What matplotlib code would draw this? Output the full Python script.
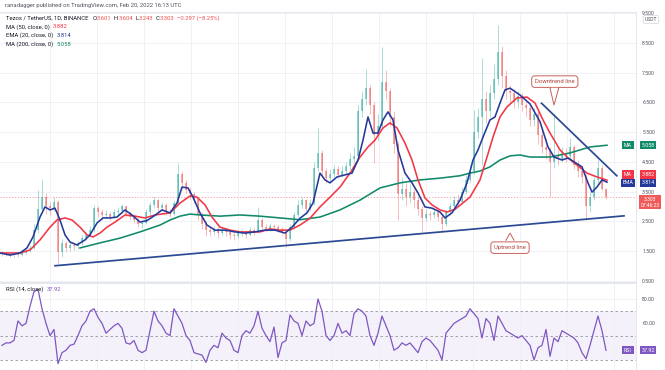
import numpy as np
import matplotlib
matplotlib.use("Agg")
import matplotlib.pyplot as plt
from matplotlib.patches import Polygon

plt.rcParams['font.family'] = ['Roboto', 'DejaVu Sans']

W, H = 665, 370

# ---- price data (one candle ~ 2.5 days) ----
close = [1.40, 1.38, 1.35, 1.38, 1.36, 1.42, 1.48, 1.60, 2.20, 2.90,
         3.30, 3.00, 2.95, 3.15, 1.45, 1.75, 1.60, 1.70, 1.65, 1.75,
         1.95, 2.05, 2.20, 2.95, 2.80, 2.70, 2.75, 2.65, 2.80, 2.85,
         3.00, 2.75, 2.65, 2.55, 2.40, 2.45, 2.80, 3.05, 3.20, 2.95,
         3.05, 2.80, 2.75, 3.10, 4.10, 3.80, 3.55, 3.40, 3.25, 2.70,
         2.40, 2.20, 2.15, 2.25, 2.10, 2.20, 2.15, 2.05, 2.00, 2.10,
         2.15, 2.05, 2.20, 2.15, 2.55, 2.30, 2.25, 2.35, 2.30, 2.25,
         2.15, 1.90, 2.30, 2.70, 3.05, 3.20, 2.90, 3.10, 4.30, 4.80,
         4.20, 3.95, 4.10, 4.25, 4.05, 4.20, 4.35, 4.60, 4.70, 6.20,
         6.60, 7.00, 6.40, 5.40, 5.70, 7.20, 6.90, 6.00, 5.10, 3.40,
         3.60, 3.30, 3.50, 3.20, 2.90, 2.60, 2.75, 2.70, 2.80, 2.65,
         2.40, 2.80, 3.00, 3.20, 3.15, 3.50, 3.90, 4.20, 5.50, 6.00,
         6.60, 6.20, 6.80, 7.30, 8.20, 7.40, 6.90, 6.80, 6.50, 6.70,
         6.40, 6.30, 5.90, 6.10, 5.40, 5.00, 4.90, 4.50, 4.70, 4.60,
         4.80, 4.70, 5.00, 4.40, 4.20, 4.00, 3.00, 3.30, 3.90, 4.30,
         3.601, 3.303]
high = [1.48, 1.45, 1.42, 1.44, 1.42, 1.48, 1.55, 1.70, 2.40, 3.55,
        3.92, 3.45, 3.15, 3.30, 3.20, 1.90, 1.85, 1.80, 1.78, 1.85,
        2.05, 2.15, 2.35, 3.05, 3.00, 2.90, 2.88, 2.82, 2.92, 2.98,
        3.08, 3.02, 2.85, 2.75, 2.62, 2.55, 2.90, 3.15, 3.30, 3.25,
        3.15, 3.10, 2.90, 3.20, 4.46, 4.20, 3.90, 3.65, 3.50, 3.30,
        2.80, 2.50, 2.30, 2.35, 2.30, 2.30, 2.28, 2.22, 2.12, 2.20,
        2.25, 2.20, 2.30, 2.28, 2.98, 2.60, 2.40, 2.45, 2.42, 2.38,
        2.30, 2.20, 2.40, 2.80, 3.20, 3.30, 3.25, 3.25, 4.50, 5.64,
        4.90, 4.30, 4.25, 4.40, 4.35, 4.35, 4.50, 4.80, 5.00, 6.40,
        6.90, 7.62, 7.10, 6.50, 6.10, 8.37, 7.60, 7.00, 6.20, 5.20,
        4.00, 3.80, 3.75, 3.60, 3.30, 3.00, 2.90, 2.85, 2.95, 2.88,
        2.70, 2.90, 3.10, 3.35, 3.40, 3.65, 4.05, 4.40, 6.24, 6.30,
        8.00, 6.90, 7.10, 7.80, 9.10, 8.40, 7.60, 7.10, 6.95, 6.90,
        6.80, 6.55, 6.40, 6.30, 6.20, 5.60, 5.30, 5.00, 6.10, 4.90,
        5.00, 4.95, 5.30, 5.05, 4.55, 4.30, 4.10, 3.50, 4.00, 4.55,
        4.40, 3.604]
low = [1.33, 1.32, 1.30, 1.31, 1.31, 1.33, 1.39, 1.45, 1.55, 2.10,
       2.80, 2.75, 2.70, 2.85, 1.05, 1.30, 1.45, 1.50, 1.52, 1.58,
       1.70, 1.88, 2.00, 2.15, 2.65, 2.55, 2.60, 2.55, 2.60, 2.70,
       2.78, 2.65, 2.55, 2.45, 2.32, 2.27, 2.40, 2.72, 2.95, 2.85,
       2.85, 2.70, 2.65, 2.70, 3.05, 3.60, 3.40, 3.25, 3.10, 2.55,
       2.25, 2.00, 2.00, 2.05, 1.95, 2.02, 2.00, 1.90, 1.87, 1.92,
       2.00, 1.95, 2.00, 2.05, 2.10, 2.20, 2.15, 2.18, 2.20, 2.12,
       2.05, 1.63, 1.85, 2.25, 2.65, 2.95, 2.75, 2.85, 3.05, 4.20,
       4.00, 3.80, 3.85, 4.00, 3.95, 4.00, 4.10, 4.25, 4.45, 4.60,
       6.00, 6.40, 6.10, 4.46, 5.20, 5.60, 6.60, 5.70, 4.80, 2.54,
       3.20, 3.00, 3.15, 2.95, 2.70, 2.14, 2.50, 2.55, 2.60, 2.50,
       2.14, 2.35, 2.70, 2.90, 3.00, 3.10, 3.40, 3.80, 4.10, 5.30,
       4.40, 5.80, 6.00, 6.60, 7.10, 7.00, 6.60, 6.50, 6.30, 6.30,
       6.20, 6.00, 5.70, 5.70, 5.10, 4.80, 4.60, 3.30, 4.30, 4.40,
       4.50, 4.50, 4.60, 4.25, 4.00, 3.80, 2.54, 2.80, 3.20, 3.80,
       3.55, 3.243]
first_open = 1.42

# moving averages, sampled along the chart (x in candle units)
ema20_x = [-0.5, 2, 4.5, 6.25, 7.75, 9.5, 10.75, 12, 13.25, 14.5, 15.75, 17, 18.75,
           20.75, 22, 23.75, 25.25, 27, 28.75, 30.75, 32.5, 34.5, 36.25, 38.25, 40,
           42, 43.75, 45, 46.5, 47.75, 49.5, 51.25, 53.25, 55.75, 58.25, 60.75, 63.25,
           65.75, 68.25, 70.75, 72.5, 74.5, 76.25, 77.75, 79.5, 80.75, 82, 83.75, 85.75,
           87.5, 89, 90.25, 91.5, 92.75, 94, 95.25, 96.5, 97.75, 99, 100.75, 102.5, 104,
           105.75, 107.5, 109.5, 110.75, 112.5, 114.5, 116.25, 117.75, 119, 120.25, 122,
           123.25, 124.5, 125.75, 127, 129.5, 132, 134.5, 136.5, 138, 140, 141.5, 143,
           145, 146.5, 147.5, 148.75, 150, 151.25]
ema20_y = [1.43, 1.36, 1.43, 1.60, 1.97, 2.64, 2.98, 2.88, 2.94, 2.54, 2.04, 1.80, 1.70,
           1.87, 2.04, 2.44, 2.61, 2.61, 2.64, 2.88, 2.71, 2.47, 2.52, 2.70, 2.88,
           2.78, 3.11, 3.65, 3.62, 3.31, 2.78, 2.37, 2.20, 2.20, 2.14, 2.10, 2.14,
           2.20, 2.20, 2.10, 2.30, 2.60, 2.78, 3.11, 4.12, 3.89, 3.79, 3.99, 4.06,
           4.12, 4.56, 5.23, 6.01, 5.47, 5.47, 5.91, 6.18, 5.91, 4.90, 4.12, 3.79, 3.45,
           2.98, 2.94, 2.81, 2.61, 2.78, 3.21, 3.79, 4.56, 4.90, 5.33, 5.91,
           6.01, 6.48, 6.92, 6.98, 6.75, 6.45, 5.85, 5.00, 4.66, 4.56, 4.63, 4.50,
           4.33, 3.79, 3.48, 3.65, 3.89, 3.814]

ma50_x = [-0.5, 4.5, 7, 9.5, 12, 13.75, 15.75, 17.5, 19.5, 21.25, 22.75, 24.5, 26.25,
          28.25, 30.75, 33.25, 35.75, 38.25, 42, 44.5, 47, 48.75, 50.75, 52.5, 54.5,
          57, 59.5, 62, 64.5, 67, 69.5, 72, 74.5, 77, 79.5, 82, 84.5, 87, 89.5, 91.5,
          93.25, 95.25, 97, 98.75, 100.75, 102.5, 104, 105.75, 107.5, 109.5, 111.25,
          113.25, 117, 119.5, 121.25, 122.75, 124.5, 126.25, 128.75, 131.25, 133.25,
          135.25, 137, 139.5, 141.5, 143.75, 146.25, 148.75, 151.25]
ma50_y = [1.43, 1.43, 1.53, 1.87, 2.30, 2.54, 2.61, 2.54, 2.30, 2.04, 1.97, 2.10, 2.30,
          2.47, 2.71, 2.67, 2.61, 2.71, 2.78, 3.11, 3.35, 3.31, 3.05, 2.64, 2.30,
          2.20, 2.14, 2.14, 2.14, 2.24, 2.20, 2.20, 2.37, 2.60, 2.98, 3.31, 3.65, 4.12,
          4.66, 5.00, 5.23, 5.64, 5.81, 5.64, 5.13, 4.56, 3.89, 3.28, 3.05, 2.88, 2.81,
          2.90, 3.31, 3.89, 4.66, 5.33, 6.01, 6.35, 6.65, 6.68, 6.48,
          5.91, 5.47, 4.90, 4.63, 4.39, 4.12, 3.99, 3.882]

ma200_x = [19.5, 24.5, 29.5, 34.5, 39.5, 42, 44.5, 47, 49.5, 54.5, 59.5, 64.5, 69.5,
           74.5, 79.5, 84.5, 89.5, 94.5, 99.5, 104.5, 109.5, 114.5, 117, 119.5, 122,
           124.5, 127, 129.5, 132, 134.5, 137, 139.5, 142, 144.5, 147, 151.25]
ma200_y = [1.60, 1.77, 1.93, 2.14, 2.37, 2.54, 2.67, 2.74, 2.71, 2.67, 2.71, 2.67, 2.61,
           2.55, 2.64, 2.88, 3.21, 3.62, 3.79, 3.89, 3.95, 4.03, 4.12, 4.19, 4.33,
           4.56, 4.70, 4.73, 4.66, 4.66, 4.66, 4.73, 4.80, 4.90, 5.00, 5.058]

# drawn trendlines (x in candle units, price)
uptrend_x = [13.25, 155.5]
uptrend_y = [1.00, 2.68]
downtrend_x = [134.9, 153.7]
downtrend_y = [6.47, 4.03]

rsi = [42, 44, 44, 46, 62, 58, 60, 74, 86, 88,
       72, 60, 50, 55, 27, 36, 38, 42, 43, 50,
       58, 62, 70, 72, 65, 60, 52, 55, 58, 60,
       56, 44, 43, 46, 38, 36, 38, 54, 70, 62,
       58, 52, 50, 72, 66, 60, 50, 46, 36, 35,
       34, 28, 38, 42, 40, 52, 48, 46, 38, 36,
       50, 54, 52, 58, 70, 56, 50, 45, 57, 32,
       44, 46, 67, 62, 60, 50, 62, 58, 60, 80,
       70, 50, 46, 50, 60, 52, 54, 50, 68, 72,
       70, 66, 50, 42, 52, 66, 58, 50, 38, 40,
       44, 42, 44, 40, 36, 45, 48, 46, 42, 38,
       30, 52, 56, 60, 62, 64, 66, 72, 68, 64,
       48, 64, 60, 46, 66, 60, 54, 52, 50, 48,
       50, 46, 42, 30, 40, 42, 55, 33, 48, 45,
       54, 52, 50, 48, 44, 36, 31, 42, 54, 66,
       54, 37.92]

price_ticks = [0.5, 1.5, 2.5, 3.5, 4.5, 5.5, 6.5, 7.5, 8.5, 9.5]
rsi_ticks = [60, 80]

UP, DOWN = '#26a69a', '#ef5350'
RED, BLUE, GREEN, PURPLE = '#f23645', '#24399a', '#118a6a', '#7e57c2'
NAVY = '#2c4a94'
GRID = '#eef0f5'
TXT = '#50535e'

fig = plt.figure(figsize=(W / 100, H / 100), dpi=100)
ax = fig.add_axes([0, 1 - 282 / H, 636 / W, 270 / H])
rax = fig.add_axes([0, 0, 636 / W, 87 / H])

x = np.arange(len(close))
c = np.array(close)
o = np.array([first_open] + close[:-1])
hi = np.array(high)
lo = np.array(low)
cols = [UP if cc >= oo else DOWN for oo, cc in zip(o, c)]

ax.vlines(x, lo, hi, colors=cols, lw=0.6, alpha=0.45, zorder=2)
body = np.maximum(np.abs(c - o), 0.02)
ax.bar(x, body, bottom=np.minimum(o, c), width=0.62, color=cols, alpha=0.5,
       linewidth=0, zorder=2)

ax.axhline(close[-1], color=DOWN, lw=0.6, ls=(0, (1.5, 2)), alpha=0.6, zorder=1)

ax.plot(ma200_x, ma200_y, color=GREEN, lw=1.15, zorder=3)
ax.plot(ma50_x, ma50_y, color=RED, lw=1.15, zorder=4)
ax.plot(ema20_x, ema20_y, color=BLUE, lw=1.15, zorder=5)
ax.plot(uptrend_x, uptrend_y, color=NAVY, lw=1.25, zorder=6)
ax.plot(downtrend_x, downtrend_y, color=NAVY, lw=1.25, zorder=6)

ax.set_xlim(-0.5, 158.5)
ax.set_ylim(0.453, 9.544)

grid_x = np.arange(12, 157, 11.75)
for a in (ax, rax):
    a.set_xticks(grid_x)
    a.tick_params(axis='x', length=0, labelbottom=False)
    a.grid(True, color=GRID, lw=0.6, zorder=0)
    a.yaxis.tick_right()
    a.tick_params(axis='y', length=0, pad=4.5, labelsize=3.7, labelcolor=TXT)
    a.spines['left'].set_visible(False)
    for s in ('right', 'top', 'bottom'):
        a.spines[s].set_color('#e0e3eb')
        a.spines[s].set_linewidth(0.6)

ax.set_yticks(price_ticks)
ax.set_yticklabels([f'{t:.3f}' for t in price_ticks])
rax.spines['bottom'].set_visible(False)

# callouts
def callout(xc, yc, text, base, tip):
    ax.text(xc, yc, text, ha='center', va='center', fontsize=4.3, color='#b0463f',
            zorder=8, bbox=dict(boxstyle='round,pad=0.55,rounding_size=0.5',
                                fc='white', ec='#c9605a', lw=0.7))
    pts = [base[0], tip, base[1]]
    ax.add_patch(Polygon(pts, closed=True, fc='white', ec='none', zorder=9))
    ax.plot([p[0] for p in pts], [p[1] for p in pts], color='#c9605a', lw=0.7,
            zorder=9, solid_joinstyle='miter')

callout(138.2, 7.20, 'Downtrend line', [(137.0, 6.99), (139.2, 6.99)], (138.0, 6.41))
callout(127.0, 1.61, 'Uptrend line', [(126.0, 1.86), (128.0, 1.86)], (127.0, 2.10))

# RSI pane
rax.plot(x, rsi, color=PURPLE, lw=0.9, zorder=3)
rax.axhspan(30, 70, color=PURPLE, alpha=0.08, lw=0, zorder=1)
for lvl in (70, 50, 30):
    rax.axhline(lvl, color='#9598a1', lw=0.6, ls=(0, (3, 3)), zorder=2)
rax.set_xlim(-0.5, 158.5)
rax.set_ylim(21.8, 93.1)
rax.set_yticks(rsi_ticks)
rax.set_yticklabels([f'{t:.2f}' for t in rsi_ticks])

# right-hand value labels
yx = ax.get_yaxis_transform()
def tag(axis, y, name, val, color):
    tr = axis.get_yaxis_transform()
    axis.text(628 / 636, y, name, transform=tr, ha='center', va='center', fontsize=3.8,
              color='white', clip_on=False, zorder=10,
              bbox=dict(boxstyle='square,pad=0.3', fc=color, ec='none'))
    axis.text(648 / 636, y, val, transform=tr, ha='center', va='center', fontsize=3.8,
              color='white', clip_on=False, zorder=10,
              bbox=dict(boxstyle='square,pad=0.3', fc=color, ec='none'))

tag(ax, 5.058, 'MA', '5.058', GREEN)
tag(ax, 4.07, 'MA', '3.882', RED)
tag(ax, 3.80, 'EMA', '3.814', BLUE)
tag(rax, 37.92, 'RSI', '37.92', PURPLE)
ax.text(650 / 636, close[-1] + 0.02, '3.303\n07:46:23', transform=yx, ha='center',
        va='top', fontsize=3.6, color='white', clip_on=False, zorder=10, linespacing=1.3,
        bbox=dict(boxstyle='square,pad=0.3', fc='#f05a5a', ec='none'))
fig.text(651 / W, 1 - 19.5 / H, 'USDT', ha='center', va='center', fontsize=3.6,
         color=TXT, bbox=dict(boxstyle='round,pad=0.3', fc='white', ec='#d1d4dc', lw=0.5))

# header & legends
fig.text(5 / W, 1 - 6 / H, 'ranadagger published on TradingView.com, Feb 20, 2022 16:13 UTC',
         fontsize=4.2, color=TXT, va='center')

renderer = fig.canvas.get_renderer()
def text_row(x0, y0, parts, size=4.2):
    xp = x0
    for s, col, gap in parts:
        t = fig.text(xp / W, 1 - y0 / H, s, fontsize=size, color=col, va='center')
        xp += t.get_window_extent(renderer=renderer).width + gap

DARK = '#131722'
text_row(6, 18, [('Tezos / TetherUS, 1D, BINANCE', DARK, 4), ('O', DARK, 0.5),
                 ('3.601', DOWN, 2), ('H', DARK, 0.5), ('3.604', DOWN, 2),
                 ('L', DARK, 0.5), ('3.243', DOWN, 2), ('C', DARK, 0.5),
                 ('3.303', DOWN, 2.5), ('\u22120.297 (\u22128.25%)', DOWN, 0)])
text_row(6, 27, [('MA (50, close, 0)', DARK, 3), ('3.882', RED, 0)])
text_row(6, 35.5, [('EMA (20, close, 0)', DARK, 3), ('3.814', BLUE, 0)])
text_row(6, 44, [('MA (200, close, 0)', DARK, 3), ('5.058', GREEN, 0)])
text_row(6, 289.5, [('RSI (14, close)', DARK, 3), ('37.92', PURPLE, 0)])

fig.savefig('out.png', dpi=100)
